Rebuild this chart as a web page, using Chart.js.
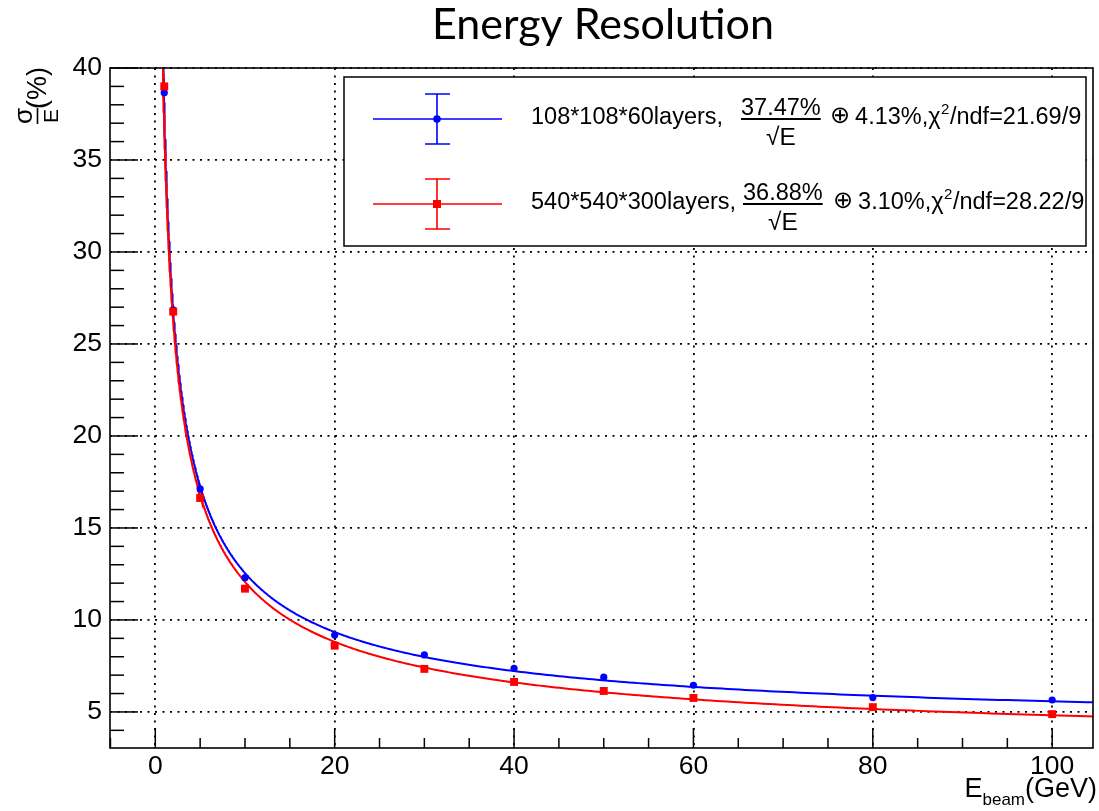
<!DOCTYPE html>
<html>
<head>
<meta charset="utf-8">
<title>Energy Resolution</title>
<script src="https://cdn.jsdelivr.net/npm/chart.js@4.4.0/dist/chart.umd.min.js"></script>
<style>
  html, body { margin: 0; padding: 0; background: #fff; }
  #wrap { width: 1099px; height: 811px; position: relative; }
</style>
</head>
<body>
<div id="wrap"><canvas id="c" width="1099" height="811"></canvas></div>
<script>
// Beam energies (GeV) and measured resolution sigma/E (%)
const energies = [1, 2, 5, 10, 20, 30, 40, 50, 60, 80, 100];
const res108 = [38.66, 26.85, 17.12, 12.30, 9.18, 8.10, 7.37, 6.89, 6.45, 5.78, 5.65];
const err108 = [0.50, 0.30, 0.20, 0.12, 0.08, 0.06, 0.06, 0.05, 0.05, 0.05, 0.05];
const res540 = [39.00, 26.76, 16.63, 11.70, 8.60, 7.34, 6.63, 6.14, 5.76, 5.26, 4.88];
const err540 = [0.45, 0.28, 0.18, 0.10, 0.07, 0.06, 0.05, 0.05, 0.05, 0.05, 0.05];

// Fit results: sigma/E = stoch/sqrt(E) (+) constant
const fit108 = { name: '108*108*60layers,', stoch: 37.47, constant: 4.13, chi2: '21.69', ndf: 9 };
const fit540 = { name: '540*540*300layers,', stoch: 36.88, constant: 3.10, chi2: '28.22', ndf: 9 };

const xTicks = [0, 20, 40, 60, 80, 100];
const yTicks = [5, 10, 15, 20, 25, 30, 35, 40];

const BLUE = '#0000ff';
const RED = '#ff0000';
const LABEL_FONT = '"Liberation Sans", Arial, Helvetica, sans-serif';

// Evaluate the fitted resolution function along the energy axis
function fitCurve(fit) {
  const pts = [];
  const f = e => Math.sqrt(fit.stoch * fit.stoch / e + fit.constant * fit.constant);
  for (let e = 0.85; e < 104.55; e *= 1.01) pts.push({ x: e, y: f(e) });
  pts.push({ x: 104.55, y: f(104.55) });
  return pts;
}

const toPoints = (vals) => energies.map((e, i) => ({ x: e, y: vals[i] }));

// ROOT-style frame, inner ticks, error bars, legend and axis titles
const decorations = {
  id: 'decorations',
  beforeDatasetsDraw(chart) {
    const { ctx, chartArea: a, scales: { x, y } } = chart;
    ctx.save();
    ctx.beginPath();
    ctx.rect(a.left, a.top, a.right - a.left, a.bottom - a.top);
    ctx.clip();
    ctx.lineWidth = 1.5;
    [[res108, err108, BLUE], [res540, err540, RED]].forEach(([vals, errs, col]) => {
      ctx.strokeStyle = col;
      energies.forEach((e, i) => {
        const px = x.getPixelForValue(e);
        ctx.beginPath();
        ctx.moveTo(px, y.getPixelForValue(vals[i] - errs[i]));
        ctx.lineTo(px, y.getPixelForValue(vals[i] + errs[i]));
        ctx.stroke();
      });
    });
    ctx.restore();
  },
  afterDatasetsDraw(chart) {
    const { ctx, chartArea: a, scales: { x, y } } = chart;
    ctx.save();
    ctx.strokeStyle = '#000';
    ctx.lineWidth = 1.5;
    ctx.setLineDash([]);

    // x ticks (inside the frame)
    for (let v = -5; v <= 104.5; v += 5) {
      const px = x.getPixelForValue(v);
      if (px < a.left || px > a.right) continue;
      const len = (v % 20 === 0) ? 20 : 10;
      ctx.beginPath();
      ctx.moveTo(px, a.bottom);
      ctx.lineTo(px, a.bottom - len);
      ctx.stroke();
    }
    // y ticks
    for (let v = 4; v <= 40; v += 1) {
      const py = y.getPixelForValue(v);
      const len = (v % 5 === 0) ? 28 : 14;
      ctx.beginPath();
      ctx.moveTo(a.left, py);
      ctx.lineTo(a.left + len, py);
      ctx.stroke();
    }
    // frame
    ctx.lineWidth = 1.6;
    ctx.strokeRect(a.left, a.top, a.right - a.left, a.bottom - a.top);

    // legend
    const L = { x: 344, y: 77, w: 742, h: 169 };
    ctx.fillStyle = '#fff';
    ctx.fillRect(L.x, L.y, L.w, L.h);
    ctx.lineWidth = 1.5;
    ctx.strokeStyle = '#000';
    ctx.strokeRect(L.x, L.y, L.w, L.h);

    drawLegendRow(ctx, 119, BLUE, 'circle', fit108, 741, 830);
    drawLegendRow(ctx, 204, RED, 'square', fit540, 743, 833);

    // y axis title: sigma/E (%)
    ctx.save();
    ctx.rotate(-Math.PI / 2);
    ctx.fillStyle = '#000';
    ctx.textBaseline = 'alphabetic';
    ctx.textAlign = 'center';
    ctx.font = '26px ' + LABEL_FONT;
    ctx.fillText('σ', -116, 32);
    ctx.font = '21px ' + LABEL_FONT;
    ctx.fillText('E', -116, 58);
    ctx.lineWidth = 1.6;
    ctx.beginPath();
    ctx.moveTo(-124, 37.5);
    ctx.lineTo(-108, 37.5);
    ctx.stroke();
    ctx.font = '27px ' + LABEL_FONT;
    ctx.textAlign = 'right';
    ctx.fillText('(%)', -67, 46);
    ctx.restore();

    // x axis title: E_beam (GeV)
    ctx.fillStyle = '#000';
    ctx.textBaseline = 'alphabetic';
    ctx.textAlign = 'left';
    ctx.font = '27px ' + LABEL_FONT;
    const gev = '(GeV)';
    const wGev = ctx.measureText(gev).width;
    ctx.font = '17px ' + LABEL_FONT;
    const wSub = ctx.measureText('beam').width;
    ctx.font = '27px ' + LABEL_FONT;
    const wE = ctx.measureText('E').width;
    let xs = 1097 - wGev - wSub - wE;
    ctx.fillText('E', xs, 797);
    xs += wE;
    ctx.font = '17px ' + LABEL_FONT;
    ctx.fillText('beam', xs, 805);
    xs += wSub;
    ctx.font = '27px ' + LABEL_FONT;
    ctx.fillText(gev, xs, 797);

    // chart title
    ctx.font = '43px Lato, "Open Sans", sans-serif';
    ctx.textAlign = 'center';
    ctx.fillText('Energy Resolution', 603, 39);
    ctx.restore();
  }
};

function drawLegendRow(ctx, cy, color, marker, fit, fracX, oplusX) {
  ctx.save();
  ctx.strokeStyle = color;
  ctx.fillStyle = color;
  ctx.lineWidth = 1.6;
  const mx = 437;
  ctx.beginPath();
  ctx.moveTo(373, cy); ctx.lineTo(502, cy);
  ctx.moveTo(mx, cy - 25); ctx.lineTo(mx, cy + 25);
  ctx.moveTo(425, cy - 25); ctx.lineTo(450, cy - 25);
  ctx.moveTo(425, cy + 25); ctx.lineTo(450, cy + 25);
  ctx.stroke();
  if (marker === 'circle') {
    ctx.beginPath(); ctx.arc(mx, cy, 3.8, 0, Math.PI * 2); ctx.fill();
  } else {
    ctx.fillRect(mx - 4, cy - 4, 8, 8);
  }

  const base = cy + 4.5;
  ctx.fillStyle = '#000';
  ctx.strokeStyle = '#000';
  ctx.textBaseline = 'alphabetic';
  ctx.textAlign = 'left';
  ctx.font = '23.5px ' + LABEL_FONT;
  ctx.fillText(fit.name, 531, base);

  // fraction stoch% / sqrt(E)
  const num = fit.stoch.toFixed(2) + '%';
  const numW = ctx.measureText(num).width;
  ctx.fillText(num, fracX, base - 9);
  ctx.lineWidth = 2;
  ctx.beginPath();
  ctx.moveTo(fracX, base - 4.5);
  ctx.lineTo(fracX + numW, base - 4.5);
  ctx.stroke();
  ctx.textAlign = 'center';
  ctx.font = '24.5px ' + LABEL_FONT;
  ctx.fillText('√E', fracX + numW / 2, base + 21);

  // (+) constant term and chi2/ndf
  ctx.textAlign = 'left';
  let xp = oplusX;
  ctx.font = '24px "DejaVu Sans", sans-serif';
  ctx.fillText('⊕', xp, base - 0.5);
  xp += ctx.measureText('⊕').width + 5;
  ctx.font = '23.5px ' + LABEL_FONT;
  const t1 = fit.constant.toFixed(2) + '%,χ';
  ctx.fillText(t1, xp, base);
  xp += ctx.measureText(t1).width;
  ctx.font = '15px ' + LABEL_FONT;
  ctx.fillText('2', xp + 0.5, base - 10);
  xp += ctx.measureText('2').width + 1;
  ctx.font = '23.5px ' + LABEL_FONT;
  ctx.fillText('/ndf=' + fit.chi2 + '/' + fit.ndf, xp, base);
  ctx.restore();
}

const tickFont = { family: LABEL_FONT, size: 26.5 };

new Chart(document.getElementById('c').getContext('2d'), {
  type: 'scatter',
  data: {
    datasets: [
      { label: '540*540*300layers', data: toPoints(res540), pointStyle: 'rect', pointRadius: 5.6,
        backgroundColor: RED, borderColor: RED, borderWidth: 0, order: 0 },
      { label: '108*108*60layers', data: toPoints(res108), pointStyle: 'circle', pointRadius: 3.6,
        backgroundColor: BLUE, borderColor: BLUE, borderWidth: 0, order: 1 },
      { label: 'fit 540', data: fitCurve(fit540), showLine: true, pointRadius: 0, borderColor: RED,
        borderWidth: 2, fill: false, tension: 0, order: 2 },
      { label: 'fit 108', data: fitCurve(fit108), showLine: true, pointRadius: 0, borderColor: BLUE,
        borderWidth: 2, fill: false, tension: 0, order: 3 }
    ]
  },
  options: {
    responsive: false,
    animation: false,
    devicePixelRatio: 1,
    layout: { padding: { left: 0, top: 68, right: 6, bottom: 0 } },
    plugins: { legend: { display: false }, title: { display: false }, tooltip: { enabled: false } },
    scales: {
      x: {
        type: 'linear', min: -5.05, max: 104.55,
        afterFit(s) { s.height = 63; },
        afterBuildTicks(s) { s.ticks = xTicks.map(v => ({ value: v })); },
        ticks: { padding: 3, color: '#000', font: tickFont, maxRotation: 0 },
        grid: { color: '#000', lineWidth: 1.8, drawTicks: false, borderDash: [2, 5.5] },
        border: { display: false, dash: [2, 5.5] }
      },
      y: {
        type: 'linear', min: 3.04, max: 40,
        afterFit(s) { s.width = 110; },
        afterBuildTicks(s) { s.ticks = yTicks.map(v => ({ value: v })); },
        ticks: { padding: 8, color: '#000', font: tickFont },
        grid: { color: '#000', lineWidth: 1.8, drawTicks: false, borderDash: [2, 5.5] },
        border: { display: false, dash: [2, 5.5] }
      }
    }
  },
  plugins: [decorations]
});
</script>
</body>
</html>
